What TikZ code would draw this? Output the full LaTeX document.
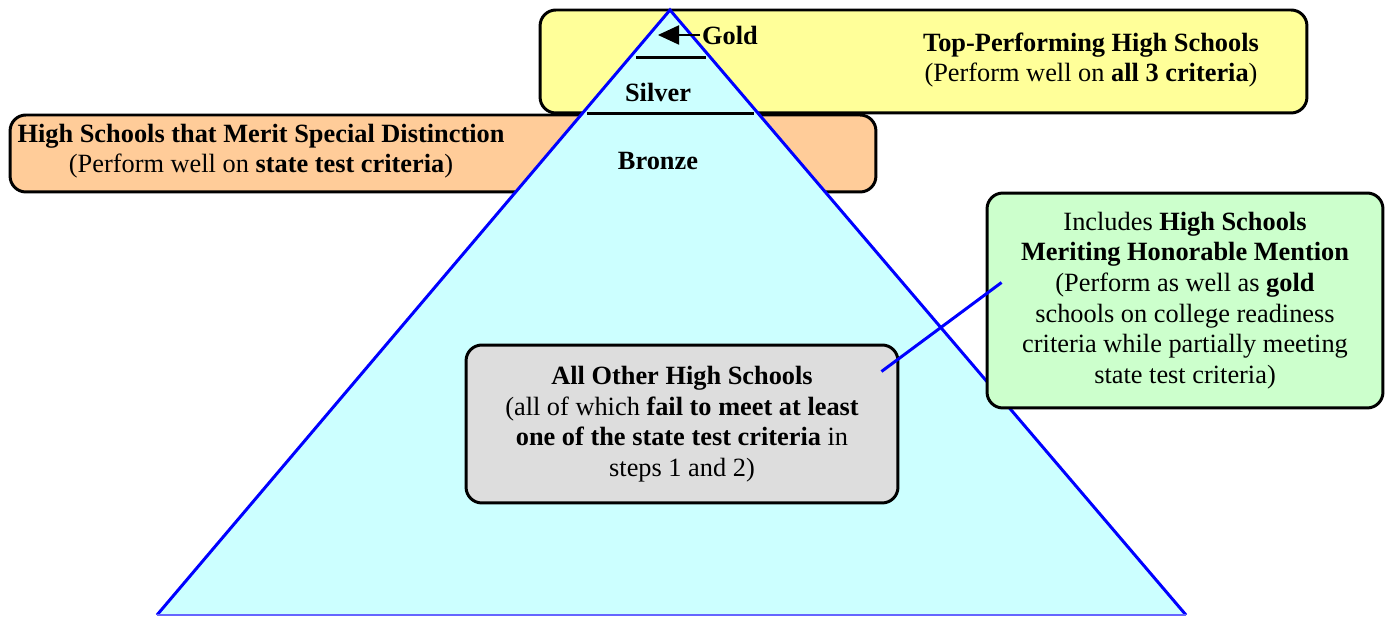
\documentclass[tikz,border=0pt]{standalone}
\usepackage{fontspec}
\setmainfont{Liberation Serif}
\usetikzlibrary{arrows.meta,calc}
\definecolor{topyellow}{HTML}{FFFF99}
\definecolor{meritorange}{HTML}{FFCC99}
\definecolor{honorgreen}{HTML}{CCFFCC}
\definecolor{othergray}{HTML}{DDDDDD}
\definecolor{pyramidfill}{HTML}{CCFFFF}
\tikzset{
  ibox/.style={draw, line width=1.7pt, rounded corners=9pt, inner sep=0pt},
  itext/.style={align=center, inner sep=0pt, font=\fontsize{15}{17.4}\selectfont},
  tier/.style={font=\fontsize{15}{17.4}\selectfont\bfseries, inner sep=1pt},
  divider/.style={line width=1.7pt},
}
\begin{document}
\begin{tikzpicture}[x=0.02cm, y=-0.02cm]
  \useasboundingbox (0,0) rectangle (1389,617);

  % boxes behind the pyramid
  \node[ibox, fill=topyellow, minimum width=15.34cm, minimum height=2.06cm] (top) at (923.5,61.5) {};
  \node[ibox, fill=meritorange, minimum width=17.32cm, minimum height=1.54cm] (merit) at (443,153.5) {};
  \node[itext] (toptext) at (1091,60) {\textbf{Top-Performing High Schools}\\(Perform well on \textbf{all 3 criteria})};
  \node[itext] (merittext) at (261,151) {\textbf{High Schools that Merit Special Distinction}\\(Perform well on \textbf{state test criteria})};

  % pyramid
  \coordinate (apex) at (670,10);
  \coordinate (baseL) at (157,615);
  \coordinate (baseR) at (1186,615);
  \fill[pyramidfill] (apex) -- (baseL) -- (baseR) -- cycle;
  \draw[blue, line width=1.7pt] (baseL) -- (apex) -- (baseR);
  \draw[blue!60, line width=0.8pt] (baseL) -- (baseR);

  % tiers
  \draw[divider] (636,58) -- (706,58);
  \draw[divider] (587,114) -- (754,114);
  \node[tier] (gold) at (730,35) {Gold};
  \coordinate (goldtip) at (658,35);
  \draw[line width=0.6pt, -{Triangle[length=12pt,width=11pt]}] (gold.west) -- (goldtip);
  \node[tier] (silver) at (658,92) {Silver};
  \node[tier] (bronze) at (658,161) {Bronze};

  % boxes on top of the pyramid
  \node[ibox, itext, fill=othergray, minimum width=8.64cm, minimum height=3.16cm] (other) at (682,424)
    {\textbf{All Other High Schools}\\(all of which \textbf{fail to meet at least}\\\textbf{one of the state test criteria} in\\steps 1 and 2)};
  \node[ibox, itext, fill=honorgreen, minimum width=7.92cm, minimum height=4.3cm] (honor) at (1185,300.5)
    {Includes \textbf{High Schools}\\\textbf{Meriting Honorable Mention}\\(Perform as well as \textbf{gold}\\schools on college readiness\\criteria while partially meeting\\state test criteria)};

  % connector
  \coordinate (otherend) at ($(other.north east)+(-18,28)$);
  \coordinate (honorend) at ($(honor.west)+(16,-18)$);
  \draw[blue, line width=1.7pt] (otherend) -- (honorend);
\end{tikzpicture}
\end{document}
